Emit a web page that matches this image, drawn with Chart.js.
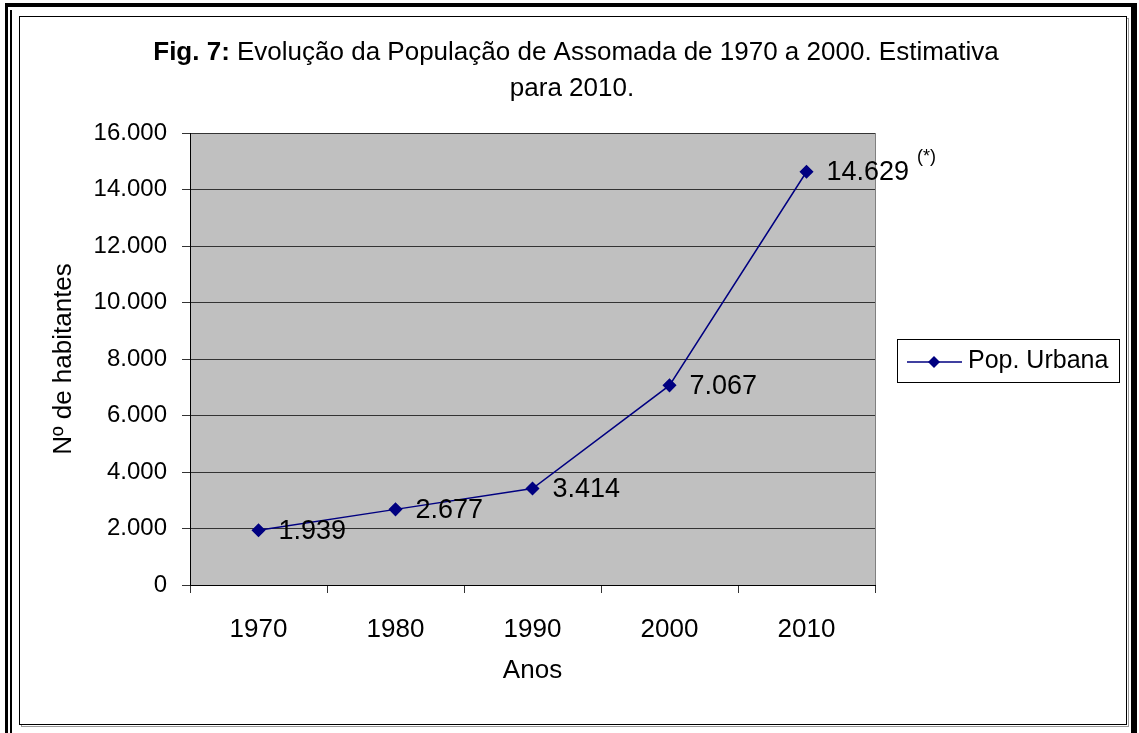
<!DOCTYPE html>
<html>
<head>
<meta charset="utf-8">
<script src="https://cdn.jsdelivr.net/npm/chart.js@4"></script>
<style>
  body { margin: 0; background: #fff; }
  canvas { display: block; }
</style>
</head>
<body>
<canvas id="popchart" width="1139" height="733"></canvas>
<script>
const anos = ['1970', '1980', '1990', '2000', '2010'];
const popUrbana = [1939, 2677, 3414, 7067, 14629];
const rotulos = ['1.939', '2.677', '3.414', '7.067', '14.629'];
const yTicks = [0, 2000, 4000, 6000, 8000, 10000, 12000, 14000, 16000];

const FONT = 'Arial, "Liberation Sans", sans-serif';
const navy = '#000080';

function fmtMil(v) {
    return String(v).replace(/\B(?=(\d{3})+(?!\d))/g, '.');
}

// moldura, fundo da área do gráfico
const molduraPlugin = {
    id: 'moldura',
    beforeDraw(chart) {
        const ctx = chart.ctx;
        const a = chart.chartArea;
        ctx.save();
        ctx.fillStyle = '#fff';
        ctx.fillRect(0, 0, chart.width, chart.height);
        ctx.fillStyle = '#000';
        ctx.fillRect(5, 3, 1132, 4);
        ctx.fillRect(5, 3, 3, 730);
        ctx.fillRect(10, 10, 2, 723);
        ctx.fillRect(1131, 3, 6, 730);
        // sombra + borda
        ctx.strokeStyle = '#999';
        ctx.lineWidth = 1;
        ctx.strokeRect(21.5, 18.5, 1107, 708);
        ctx.strokeStyle = '#000';
        ctx.strokeRect(19.5, 16.5, 1107, 708);
        ctx.fillStyle = '#fff';
        ctx.fillRect(20, 17, 1106, 707);
        ctx.fillStyle = '#C0C0C0';
        ctx.fillRect(a.left, a.top, a.right - a.left, a.bottom - a.top);
        ctx.strokeStyle = '#808080';
        ctx.strokeRect(a.left + 0.5, a.top + 0.5, a.right - a.left, a.bottom - a.top);
        ctx.restore();
    },
    afterDraw(chart) {
        const ctx = chart.ctx;
        ctx.save();
        // titulo
        const t1b = 'Fig. 7:';
        const t1 = ' Evolução da População de Assomada de 1970 a 2000. Estimativa';
        ctx.fillStyle = '#000';
        ctx.textBaseline = 'alphabetic';
        ctx.font = 'bold 26px ' + FONT;
        const wb = ctx.measureText(t1b).width;
        ctx.font = '26px ' + FONT;
        const wr = ctx.measureText(t1).width;
        let x0 = 576 - (wb + wr) / 2;
        ctx.font = 'bold 26px ' + FONT;
        ctx.textAlign = 'left';
        ctx.fillText(t1b, x0, 60);
        ctx.font = '26px ' + FONT;
        ctx.fillText(t1, x0 + wb, 60);
        ctx.textAlign = 'center';
        ctx.fillText('para 2010.', 572, 96);

        // legenda
        ctx.strokeStyle = '#000';
        ctx.lineWidth = 1;
        ctx.strokeRect(897.5, 339.5, 222, 43);
        ctx.strokeStyle = navy;
        ctx.lineWidth = 1.5;
        ctx.beginPath();
        ctx.moveTo(907, 362);
        ctx.lineTo(962, 362);
        ctx.stroke();
        ctx.fillStyle = navy;
        ctx.beginPath();
        ctx.moveTo(934, 356);
        ctx.lineTo(940, 362);
        ctx.lineTo(934, 368);
        ctx.lineTo(928, 362);
        ctx.closePath();
        ctx.fill();
        ctx.fillStyle = '#000';
        ctx.font = '25px ' + FONT;
        ctx.textAlign = 'left';
        ctx.textBaseline = 'middle';
        ctx.fillText('Pop. Urbana', 968, 361);
        ctx.restore();
    },
    afterDatasetsDraw(chart) {
        const ctx = chart.ctx;
        const meta = chart.getDatasetMeta(0);
        ctx.save();
        ctx.fillStyle = '#000';
        ctx.textAlign = 'left';
        ctx.textBaseline = 'middle';
        meta.data.forEach((pt, i) => {
            ctx.font = '27px ' + FONT;
            ctx.fillText(rotulos[i], pt.x + 20, pt.y + 1);
            if (i === rotulos.length - 1) {
                const w = ctx.measureText(rotulos[i]).width;
                ctx.font = '18px ' + FONT;
                ctx.fillText('(*)', pt.x + 20 + w + 8, pt.y - 15);
            }
        });
        ctx.restore();
    }
};

new Chart(document.getElementById('popchart'), {
    type: 'line',
    data: {
        labels: anos,
        datasets: [{
            label: 'Pop. Urbana',
            data: popUrbana,
            borderColor: navy,
            backgroundColor: navy,
            borderWidth: 1.5,
            pointStyle: 'rectRot',
            pointRadius: 6,
            pointBackgroundColor: navy,
            pointBorderColor: navy,
            lineTension: 0,
            fill: false
        }]
    },
    options: {
        responsive: false,
        animation: false,
        layout: { padding: { left: 44, right: 264, top: 133, bottom: 43 } },
        plugins: {
            legend: { display: false },
            title: { display: false },
            tooltip: { enabled: false }
        },
        scales: {
            x: {
                type: 'category',
                offset: true,
                grid: {
                    offset: true,
                    drawOnChartArea: false,
                    drawTicks: true,
                    tickLength: 8,
                    color: '#333'
                },
                border: { color: '#000', width: 1 },
                ticks: { color: '#000', font: { family: FONT, size: 26 }, padding: 21, maxRotation: 0 },
                title: { display: true, text: 'Anos', color: '#000', font: { family: FONT, size: 26 } },
                afterFit(scale) { scale.height = 105; }
            },
            y: {
                min: 0,
                max: 16000,
                afterBuildTicks(scale) { scale.ticks = yTicks.map(v => ({ value: v })); },
                grid: { color: '#333', tickLength: 8 },
                border: { color: '#000', width: 1 },
                ticks: {
                    color: '#000',
                    font: { family: FONT, size: 24 },
                    padding: 15,
                    callback: v => fmtMil(v)
                },
                title: { display: true, text: 'Nº de habitantes', color: '#000', font: { family: FONT, size: 26 } },
                afterFit(scale) { scale.width = 146; }
            }
        }
    },
    plugins: [molduraPlugin]
});
</script>
</body>
</html>
